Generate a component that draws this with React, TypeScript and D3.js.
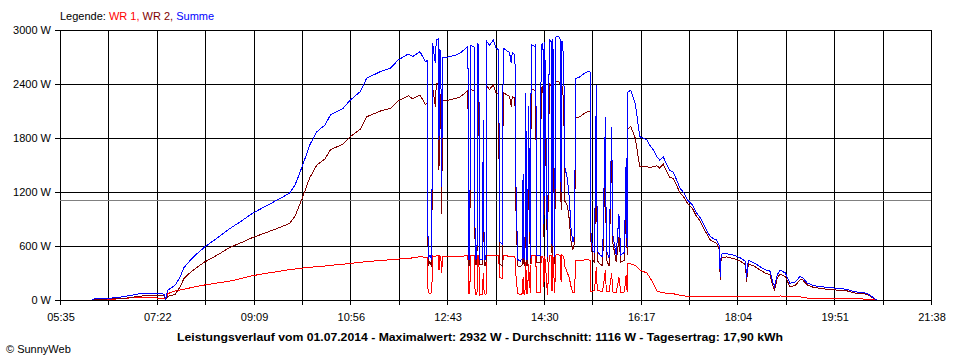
import * as d3 from "d3";
import { useRef, useEffect } from "react";

// Messzeitpunkte (hh:mm) und Leistung in W
const times = [
	"06:10","06:25","06:36","06:47","06:58","07:06","07:17","07:26","07:30","07:32",
	"07:34","07:42","07:48","07:52","07:59","08:06","08:15","08:29","08:43","08:56",
	"09:08","09:22","09:35","09:44","09:49","09:55","10:00","10:06","10:11","10:19",
	"10:28","10:34","10:48","10:56","11:07","11:14","11:29","11:40","11:49","12:00",
	"12:05","12:13","12:19","12:21","12:22","12:24","12:26","12:27","12:30","12:31",
	"12:33","12:34","12:35","12:36","12:37","12:38","12:44","12:52","12:57","13:03",
	"13:06","13:07","13:08","13:09","13:13","13:14","13:16","13:17","13:18","13:19",
	"13:22","13:23","13:24","13:26","13:27","13:30","13:34","13:37","13:40","13:41",
	"13:44","13:45","13:49","13:52","13:54","13:55","13:58","13:59","14:01","14:04",
	"14:06","14:07","14:08","14:09","14:10","14:11","14:12","14:13","14:15","14:16",
	"14:20","14:21","14:22","14:26","14:27","14:29","14:30","14:31","14:34","14:36",
	"14:38","14:39","14:40","14:42","14:43","14:46","14:48","14:49","14:50","14:52",
	"14:53","14:56","14:58","15:00","15:02","15:04","15:05","15:10","15:15","15:20",
	"15:21","15:22","15:24","15:26","15:28","15:29","15:32","15:35","15:38","15:39",
	"15:42","15:45","15:46","15:50","15:53","15:55","15:59","16:01","16:02","16:03",
	"16:06","16:11","16:16","16:24","16:27","16:31","16:35","16:38","16:42","16:46",
	"16:49","16:53","16:57","17:00","17:05","17:09","17:14","17:18","17:23","17:28",
	"17:34","17:38","17:41","17:44","17:45","17:46","17:52","17:59","18:07","18:13",
	"18:14","18:16","18:23","18:29","18:34","18:40","18:43","18:45","18:48","18:51",
	"18:57","19:02","19:08","19:13","19:16","19:21","19:28","19:35","19:43","19:50",
	"19:57","20:05","20:12","20:19","20:27","20:31","20:35","20:38",
];

const wr1 = [
	0, 5, 10, 20, 25, 30, 25, 20, 20, 5,
	70, 100, 111, 120, 135, 150, 167, 190, 210, 240,
	270, 295, 315, 330, 338, 345, 352, 358, 363, 370,
	378, 385, 398, 407, 418, 428, 438, 447, 455, 463,
	468, 481, 475, 470, 80, 75, 80, 490, 480, 490,
	495, 330, 490, 480, 300, 480, 480, 482, 485, 490,
	490, 70, 70, 490, 490, 60, 60, 495, 490, 55,
	60, 300, 70, 65, 495, 490, 500, 495, 490, 250,
	240, 495, 490, 485, 480, 485, 480, 280, 70, 60,
	70, 250, 70, 65, 420, 70, 70, 400, 75, 495,
	490, 490, 80, 80, 480, 485, 150, 490, 60, 495,
	490, 100, 495, 80, 500, 502, 495, 200, 495, 480,
	380, 300, 250, 150, 80, 90, 440, 442, 445, 445,
	440, 100, 100, 110, 370, 110, 100, 100, 330, 100,
	90, 300, 90, 80, 250, 80, 90, 280, 90, 410,
	400, 385, 333, 300, 250, 185, 100, 90, 80, 75,
	74, 70, 60, 55, 45, 40, 38, 37, 37, 37,
	37, 37, 37, 37, 37, 37, 37, 37, 37, 37,
	37, 37, 37, 37, 37, 37, 37, 40, 40, 45,
	40, 37, 37, 37, 25, 22, 20, 20, 20, 20,
	20, 18, 15, 12, 10, 10, 5, 0,
];

const wr2 = [
	10, 10, 15, 20, 35, 45, 50, 50, 45, 5,
	40, 60, 149, 240, 305, 360, 423, 500, 585, 640,
	695, 745, 795, 830, 852, 935, 1058, 1217, 1357, 1500,
	1567, 1670, 1732, 1815, 1897, 2035, 2099, 2127, 2212, 2270,
	2236, 2278, 2173, 2190, 380, 425, 370, 2360, 2150, 2400,
	2405, 1450, 2300, 2250, 960, 2210, 2220, 2238, 2255, 2300,
	2330, 380, 380, 2340, 2320, 390, 400, 2355, 2330, 395,
	390, 1700, 380, 385, 2375, 2340, 2390, 2305, 2290, 400,
	380, 2305, 2280, 2265, 2150, 2265, 2240, 1050, 380, 370,
	390, 1150, 400, 385, 1880, 380, 380, 1750, 395, 2340,
	2330, 2350, 420, 420, 2350, 2370, 700, 2380, 420, 2400,
	2380, 500, 2400, 400, 2420, 2430, 2400, 1000, 2380, 2200,
	1100, 1050, 900, 650, 560, 640, 2020, 2038, 2075, 2100,
	2090, 650, 450, 420, 2020, 440, 400, 380, 1700, 450,
	380, 1620, 650, 420, 700, 420, 440, 1300, 500, 1900,
	1930, 1800, 1482, 1480, 1470, 1482, 1492, 1465, 1510, 1425,
	1366, 1350, 1270, 1195, 1140, 1071, 1022, 943, 874, 773,
	666, 643, 629, 563, 222, 473, 478, 463, 433, 393,
	203, 403, 373, 333, 303, 283, 163, 110, 240, 288,
	260, 148, 163, 222, 225, 168, 140, 130, 120, 115,
	105, 102, 80, 73, 65, 40, 15, 0,
];

const summe = [
	10, 15, 25, 40, 60, 75, 75, 70, 65, 10,
	110, 160, 260, 360, 440, 510, 590, 690, 795, 880,
	965, 1040, 1110, 1160, 1190, 1280, 1410, 1575, 1720, 1870,
	1945, 2055, 2130, 2222, 2315, 2463, 2537, 2574, 2667, 2733,
	2704, 2759, 2648, 2660, 460, 500, 450, 2850, 2630, 2890,
	2900, 1780, 2790, 2730, 1260, 2690, 2700, 2720, 2740, 2790,
	2820, 450, 450, 2830, 2810, 450, 460, 2850, 2820, 450,
	450, 2000, 450, 450, 2870, 2830, 2890, 2800, 2780, 650,
	620, 2800, 2770, 2750, 2630, 2750, 2720, 1330, 450, 430,
	460, 1400, 470, 450, 2300, 450, 450, 2150, 470, 2835,
	2820, 2840, 500, 500, 2830, 2855, 850, 2870, 480, 2895,
	2870, 600, 2895, 480, 2920, 2932, 2895, 1200, 2875, 2680,
	1480, 1350, 1150, 800, 640, 730, 2460, 2480, 2520, 2545,
	2530, 750, 550, 530, 2390, 550, 500, 480, 2030, 550,
	470, 1920, 740, 500, 950, 500, 530, 1580, 590, 2310,
	2330, 2185, 1815, 1780, 1720, 1667, 1592, 1555, 1590, 1500,
	1440, 1420, 1330, 1250, 1185, 1111, 1060, 980, 911, 810,
	703, 680, 666, 600, 259, 510, 515, 500, 470, 430,
	240, 440, 410, 370, 340, 320, 200, 150, 280, 333,
	300, 185, 200, 259, 250, 190, 160, 150, 140, 135,
	125, 120, 95, 85, 75, 50, 20, 0,
];

const xTickLabels = ["05:35", "07:22", "09:09", "10:56", "12:43", "14:30", "16:17", "18:04", "19:51", "21:38"];
const yTicks = [0, 600, 1200, 1800, 2400, 3000];
const durchschnitt = 1116;
const legend = [
	{ name: "WR 1", color: "#ff0000", values: wr1 },
	{ name: "WR 2", color: "#800000", values: wr2 },
	{ name: "Summe", color: "#0000ff", values: summe },
];
const title = "Leistungsverlauf vom 01.07.2014 - Maximalwert: 2932 W - Durchschnitt: 1116 W - Tagesertrag: 17,90 kWh";

const toMin = (s) => {
	const [h, m] = s.split(":").map(Number);
	return h * 60 + m;
};

const App = () => {
	const chartRef = useRef(null);

	const width = 960;
	const height = 360;
	const margin = { top: 30, bottom: 60, left: 60, right: 29 };

	useEffect(() => {
		const svg = d3.select(chartRef.current);
		svg.selectAll("*").remove();

		const font = "'Liberation Sans', Arial, sans-serif";

		const scaleX = d3.scaleLinear()
			.domain([toMin(xTickLabels[0]), toMin(xTickLabels[xTickLabels.length - 1])])
			.range([margin.left, width - margin.right]);
		const scaleY = d3.scaleLinear()
			.domain([0, 3000])
			.range([height - margin.bottom, margin.top]);

		const px = (v) => Math.round(v) + 0.5;
		const x0 = scaleX.range()[0];
		const x1 = scaleX.range()[1];
		const yBottom = scaleY(0);
		const yTop = scaleY(3000);

		// Gitter: jede Beschriftung plus Zwischenlinie
		const labelMins = xTickLabels.map(toMin);
		const gridMins = [];
		labelMins.forEach((m, i) => {
			gridMins.push(m);
			if (i < labelMins.length - 1) gridMins.push((m + labelMins[i + 1]) / 2);
		});

		const grid = svg.append("g").attr("shape-rendering", "crispEdges");
		grid.selectAll(".vgrid")
			.data(gridMins)
			.enter()
			.append("line")
			.attr("x1", d => px(scaleX(d)))
			.attr("x2", d => px(scaleX(d)))
			.attr("y1", yTop)
			.attr("y2", yBottom + 5)
			.attr("stroke", "#000");
		grid.selectAll(".hgrid")
			.data(yTicks)
			.enter()
			.append("line")
			.attr("x1", x0 - 5)
			.attr("x2", x1)
			.attr("y1", d => px(scaleY(d)))
			.attr("y2", d => px(scaleY(d)))
			.attr("stroke", "#000");

		// Durchschnittslinie
		grid.append("line")
			.attr("x1", x0)
			.attr("x2", x1)
			.attr("y1", px(scaleY(durchschnitt)))
			.attr("y2", px(scaleY(durchschnitt)))
			.attr("stroke", "#808080");

		// Achsenbeschriftung
		svg.append("g")
			.selectAll("text")
			.data(yTicks)
			.enter()
			.append("text")
			.attr("x", x0 - 9)
			.attr("y", d => scaleY(d) + 4)
			.attr("text-anchor", "end")
			.style("font-family", font)
			.style("font-size", "11px")
			.text(d => `${d} W`);

		svg.append("g")
			.selectAll("text")
			.data(xTickLabels)
			.enter()
			.append("text")
			.attr("x", d => scaleX(toMin(d)) + 1)
			.attr("y", yBottom + 20.5)
			.attr("text-anchor", "middle")
			.style("font-family", font)
			.style("font-size", "11px")
			.text(d => d);

		// Kurven
		const line = d3.line()
			.x(d => scaleX(d.t))
			.y(d => scaleY(d.v));

		const lines = svg.append("g")
			.attr("fill", "none")
			.attr("shape-rendering", "crispEdges");
		legend.forEach(s => {
			const pts = times.map((t, i) => ({ t: toMin(t), v: s.values[i] }));
			lines.append("path")
				.attr("d", line(pts))
				.attr("stroke", s.color)
				.attr("stroke-width", 1);
		});

		// Legende
		const leg = svg.append("text")
			.attr("x", x0)
			.attr("y", 20)
			.style("font-family", font)
			.style("font-size", "11px");
		leg.append("tspan").attr("fill", "#000").text("Legende: ");
		legend.forEach((s, i) => {
			leg.append("tspan").attr("fill", s.color).text(s.name);
			if (i < legend.length - 1) leg.append("tspan").attr("fill", s.color).text(", ");
		});

		// Titel
		svg.append("text")
			.attr("x", 480)
			.attr("y", 341)
			.attr("text-anchor", "middle")
			.attr("textLength", 606)
			.attr("lengthAdjust", "spacingAndGlyphs")
			.style("font-family", font)
			.style("font-size", "11.5px")
			.style("font-weight", "bold")
			.text(title);

		svg.append("text")
			.attr("x", 6)
			.attr("y", 353)
			.style("font-family", font)
			.style("font-size", "11px")
			.text("\u00a9 SunnyWeb");
	}, []);

	return (
		<svg
			ref={chartRef}
			width={width}
			height={height}
			style={{ position: "absolute", left: 0, top: 0, background: "#fff" }}
		/>
	);
};

export default App;
